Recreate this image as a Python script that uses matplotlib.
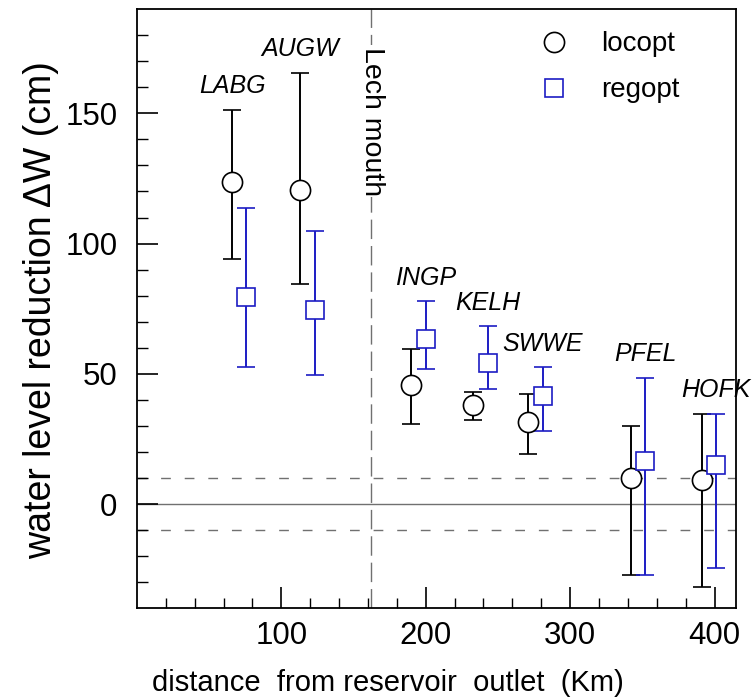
import matplotlib
matplotlib.use("Agg")
import matplotlib.pyplot as plt
from matplotlib.lines import Line2D

plt.rcParams['font.family'] = ['Liberation Sans', 'DejaVu Sans']

# station names (upstream -> downstream)
stations = ["LABG", "AUGW", "INGP", "KELH", "SWWE", "PFEL", "HOFK"]

# locopt: distance (km), water level reduction (cm), error bar limits
loc_x = [66, 113, 190, 233, 271, 342, 391]
loc_y = [123.6, 120.5, 45.8, 38.0, 31.7, 10.1, 9.2]
loc_hi = [151.4, 165.5, 59.7, 43.0, 42.4, 30.1, 34.5]
loc_lo = [94.0, 84.6, 30.9, 32.4, 19.4, -27.3, -31.8]

# regopt
reg_x = [75.5, 123, 200, 243, 281, 352, 401]
reg_y = [79.3, 74.6, 63.3, 54.0, 41.5, 16.5, 14.9]
reg_hi = [113.7, 104.7, 77.8, 68.2, 52.6, 48.5, 34.7]
reg_lo = [52.7, 49.6, 51.7, 44.1, 28.2, -27.3, -24.5]

lech_mouth = 162
tolerance = 10

blue = '#1c1cc4'

fig = plt.figure(figsize=(7.52, 7.00), dpi=100)
ax = fig.add_axes([0.182, 0.131, 0.797, 0.856])

# reference lines
ax.axhline(0, color='#707070', lw=1.0, zorder=1)
ax.axhline(tolerance, color='#707070', lw=1.0, dashes=(7, 10), zorder=1)
ax.axhline(-tolerance, color='#707070', lw=1.0, dashes=(7, 10), zorder=1)
ax.axvline(lech_mouth, color='#707070', lw=1.0, dashes=(14, 5), zorder=1)

# error bars
loc_err = [[y - lo for y, lo in zip(loc_y, loc_lo)], [hi - y for y, hi in zip(loc_y, loc_hi)]]
reg_err = [[y - lo for y, lo in zip(reg_y, reg_lo)], [hi - y for y, hi in zip(reg_y, reg_hi)]]

ax.errorbar(loc_x, loc_y, yerr=loc_err, fmt='o', color='black', mfc='white', mec='black',
            ms=14.5, mew=1.2, elinewidth=1.4, capsize=6.5, capthick=1.4, zorder=3)
ax.errorbar(reg_x, reg_y, yerr=reg_err, fmt='s', color=blue, mfc='white', mec=blue,
            ms=12.5, mew=1.2, elinewidth=1.4, capsize=6.5, capthick=1.4, zorder=3)

# station labels above the taller error bar
for i, name in enumerate(stations):
    if loc_hi[i] > reg_hi[i]:
        lx, ly = loc_x[i], loc_hi[i]
    else:
        lx, ly = reg_x[i], reg_hi[i]
    ax.text(lx, ly + 9, name, ha='center', va='center', style='italic', fontsize=18)

ax.text(lech_mouth + 1, 147, "Lech mouth", rotation=-90, ha='center', va='center', fontsize=20.5,
        bbox=dict(facecolor='white', edgecolor='none', pad=1), zorder=2)

# legend
handles = [Line2D([], [], marker='o', ls='none', mfc='white', mec='black', ms=14.5, mew=1.2),
           Line2D([], [], marker='s', ls='none', mfc='white', mec=blue, ms=12.5, mew=1.2)]
ax.legend(handles, ["locopt", "regopt"], loc='upper left', bbox_to_anchor=(0.673, 0.963),
          frameon=False, handlelength=1.0, handletextpad=1.2,
          labelspacing=0.72, borderpad=0, borderaxespad=0, fontsize=20)

ax.set_xlim(0, 415)
ax.set_ylim(-40, 190)
ax.set_xticks([100, 200, 300, 400])
ax.set_xticks(range(20, 415, 20), minor=True)
ax.set_yticks([0, 50, 100, 150])
ax.set_yticks(range(-30, 190, 10), minor=True)
ax.tick_params(which='both', direction='in', top=False, right=False, labelsize=22.5)
ax.tick_params(axis='x', which='major', length=15, width=1.2, pad=9)
ax.tick_params(axis='x', which='minor', length=7, width=1.0)
ax.tick_params(axis='y', which='major', length=15, width=1.2, pad=14)
ax.tick_params(axis='y', which='minor', length=8, width=1.0)
for s in ax.spines.values():
    s.set_linewidth(1.3)

ax.set_xlabel("distance  from reservoir  outlet  (Km)", fontsize=21)
ax.xaxis.set_label_coords(0.418, -0.102)
ax.set_ylabel("water level reduction \u0394W (cm)", fontsize=27)
ax.yaxis.set_label_coords(-0.13, 0.497)

fig.savefig("out.png", dpi=100)
